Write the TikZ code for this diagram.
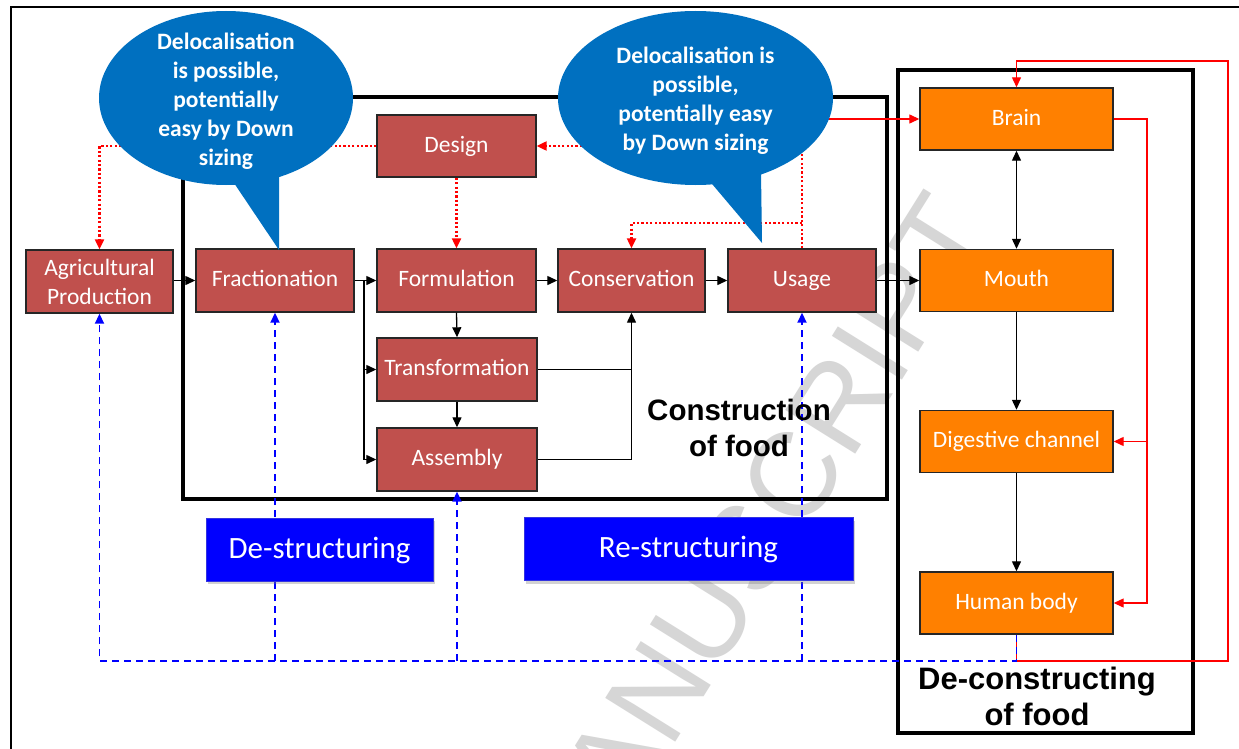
\documentclass[tikz,border=0pt]{standalone}
\usepackage{fontspec}
\setmainfont{Carlito}
\newfontfamily\arialf{Liberation Sans}
\usetikzlibrary{arrows.meta,shadows}
\definecolor{boxred}{RGB}{192,80,77}
\definecolor{boxorange}{RGB}{255,128,0}
\definecolor{boxblue}{RGB}{0,0,255}
\definecolor{callblue}{RGB}{0,112,192}
\definecolor{lnred}{RGB}{255,0,0}
\definecolor{lnblue}{RGB}{0,0,255}
\tikzset{
  rbox/.style={draw=black!85, line width=1.4pt, fill=boxred, text=white,
    font=\fontsize{23.5}{29}\selectfont, align=center, inner sep=0pt,
    minimum height=63pt},
  oneline/.style={text height=16pt, text depth=4pt},
  obox/.style={draw=black!85, line width=1.4pt, fill=boxorange, text=white,
    font=\fontsize{23.5}{29}\selectfont, inner sep=0pt,
    minimum width=193pt, minimum height=62pt, oneline},
  bbox/.style={draw=black!15!boxblue!80!white, line width=1pt, fill=boxblue, text=white,
    font=\fontsize{31}{36}\selectfont, inner sep=0pt, minimum height=63pt,
    text height=23pt, text depth=6pt,
    drop shadow={opacity=0.35, shadow xshift=2pt, shadow yshift=-3pt}},
  calltext/.style={text=white, font=\bfseries\fontsize{23.5}{29}\selectfont, align=center, inner sep=0pt},
  bigtext/.style={text=black, font=\arialf\bfseries\fontsize{29.5}{36}\selectfont, align=center, inner sep=0pt},
  wmark/.style={text=black!16, font=\arialf\fontsize{120}{120}\selectfont, inner sep=0pt, rotate=58},
  arr/.style={-{Triangle[length=10pt,width=9pt]}},
  conn/.style={draw=black, line width=1.3pt},
  reddot/.style={draw=lnred, line width=2.2pt, dash pattern=on 2.2pt off 2.2pt},
  redln/.style={draw=lnred, line width=1.3pt},
  bluedash/.style={draw=lnblue, line width=1.8pt, dash pattern=on 7pt off 5pt},
  thickbox/.style={draw=black, line width=4.5pt},
}
\begin{document}
\begin{tikzpicture}[x=1pt,y=-1pt]
\useasboundingbox (0,0) rectangle (1239,749);
\clip (0,0) rectangle (1239,749);
\fill[white] (0,0) rectangle (1239,749);
% watermark letters
\foreach \l/\px/\py in {A/614/763, N/658/692, U/704/618, S/748/548, C/792/477, R/838/404, I/870/353, P/900/305, T/941/240}
  \node[wmark] (wm\l) at (\px,\py) {\l};
% outer frame
\draw[line width=2.2pt] (11,760) -- (11,7) -- (1260,7);
% big frames
\draw[thickbox] (183,97) rectangle (887,499);
\draw[thickbox] (898,70) rectangle (1193,733);
% nodes
\node[rbox, minimum width=147pt] (agri) at (99.5,281.5) {Agricultural\\Production};
\node[rbox, oneline, minimum width=158pt] (frac) at (275,280.5) {Fractionation};
\node[rbox, oneline, minimum width=159pt] (form) at (456.5,280.5) {Formulation};
\node[rbox, oneline, minimum width=147pt] (cons) at (631.5,280.5) {Conservation};
\node[rbox, oneline, minimum width=148pt] (usage) at (802,280.5) {Usage};
\node[rbox, oneline, minimum width=159pt, minimum height=62pt] (design) at (456.5,146) {Design};
\node[rbox, oneline, minimum width=160pt] (trans) at (457,369.5) {Transformation};
\node[rbox, oneline, minimum width=160pt] (assem) at (457,459.5) {Assembly};
\node[obox] (brain) at (1016.5,119) {Brain};
\node[obox] (mouth) at (1016.5,280.5) {Mouth};
\node[obox] (dig) at (1016.5,441.5) {Digestive channel};
\node[obox] (human) at (1016.5,603) {Human body};
% coordinates
\coordinate (br) at (364,280.5);
\coordinate (h223) at (0,223);
\coordinate (rx) at (1147,0);
\coordinate (ob) at (1228,661);
\coordinate (ot) at (1228,61);
\coordinate (bl) at (0,661);
% black connectors
\draw[conn,arr] (agri.east |- frac.west) -- (frac.west);
\draw[conn,arr] (frac.east) -- (form.west);
\draw[conn,arr] (br) |- (trans.west);
\draw[conn,arr] (br) |- (assem.west);
\draw[conn,arr] (form.south) -- (trans.north);
\draw[conn,arr] (trans.south) -- (assem.north);
\draw[conn,arr] (form.east) -- (cons.west);
\draw[conn,arr] (cons.east) -- (usage.west);
\draw[conn,arr] (usage.east) -- (mouth.west);
\draw[conn] (trans.east) -- (trans.east -| cons.south);
\draw[conn,arr] (assem.east) -| (cons.south);
\draw[conn,{Triangle[length=10pt,width=9pt]}-{Triangle[length=10pt,width=9pt]}] (brain.south) -- (mouth.north);
\draw[conn,arr] (mouth.south) -- (dig.north);
\draw[conn,arr] (dig.south) -- (human.north);
% red dotted
\draw[reddot] (usage.north) -- (usage.north |- brain.west);
\draw[redln,arr] (usage.north |- brain.west) -- (brain.west);
\draw[reddot,arr] (usage.north |- h223) -| (cons.north);
\draw[reddot,arr] (usage.north |- design.east) -- (design.east);
\draw[reddot,arr] (design.west) -| (agri.north);
\draw[reddot,arr] (design.south) -- (form.north);
% red solid loops
\draw[redln,arr] (brain.east) -- (brain.east -| rx) |- (human.east);
\draw[redln,arr] (dig.east -| rx) -- (dig.east);
\draw[redln,arr] (human.south) -- (human.south |- ob) -- (ob) -- (ot) -| (brain.north);
% blue dashed
\draw[bluedash,arr] (human.south) -- (human.south |- bl) -| (agri.south);
\draw[bluedash,arr] (frac.south |- bl) -- (frac.south);
\draw[bluedash,arr] (assem.south |- bl) -- (assem.south);
\draw[bluedash,arr] (usage.south |- bl) -- (usage.south);
% blue boxes
\node[bbox, minimum width=227pt] (destr) at (319.5,549.5) {De-structuring};
\node[bbox, minimum width=329pt] (restr) at (688.5,549) {Re-structuring};
% callouts
\fill[callblue] (226,98) ellipse [x radius=127pt, y radius=87pt];
\fill[callblue] (232,180) -- (279,250) -- (279,170) -- cycle;
\node[calltext] (c1) at (226,101.5) {Delocalisation\\is possible,\\potentially\\easy by Down\\sizing};
\fill[callblue] (695.5,98) ellipse [x radius=137.5pt, y radius=87pt];
\fill[callblue] (707,178) -- (762,243) -- (761,172) -- cycle;
\node[calltext] (c2) at (695.5,100.5) {Delocalisation is\\possible,\\potentially easy\\by Down sizing};
% labels
\node[bigtext] (ctext) at (739,428) {Construction\\of food};
\node[bigtext, font=\arialf\bfseries\fontsize{31}{36}\selectfont] (dtext) at (1037,696) {De-constructing\\of food};
\end{tikzpicture}
\end{document}
